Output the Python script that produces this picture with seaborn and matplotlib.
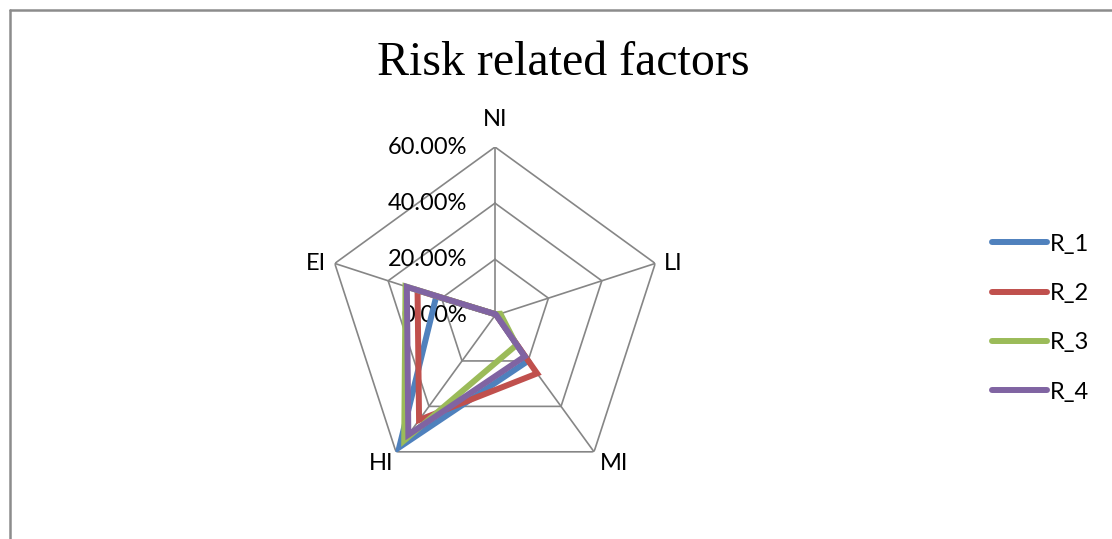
import numpy as np
import pandas as pd
import matplotlib
matplotlib.use("Agg")
import matplotlib.pyplot as plt
import seaborn as sns
from matplotlib.lines import Line2D

# ---- data ----
categories = ["NI", "LI", "MI", "HI", "EI"]
series_names = ["R_1", "R_2", "R_3", "R_4"]
R_1 = [0.5, 0.5, 20.0, 58.0, 22.0]
R_2 = [0.5, 0.5, 25.5, 46.0, 29.0]
R_3 = [0.5, 2.0, 13.0, 55.0, 33.5]
R_4 = [0.5, 0.5, 18.0, 52.5, 33.0]
r_ticks = [0.0, 0.2, 0.4, 0.6]
r_tick_labels = ["0.00%", "20.00%", "40.00%", "60.00%"]
colors = ["#4F81BD", "#C0504D", "#9BBB59", "#8064A2"]
title = "Risk related factors"

sns.set_theme(style="white")
plt.rcParams["font.family"] = ["Lato", "DejaVu Sans"]
plt.rcParams["text.color"] = "black"

W, H = 1112, 539
fig = plt.figure(figsize=(W / 100, H / 100), dpi=100)

cx, cy, rad = 495, 315.5, 168.5
ax = fig.add_axes([(cx - rad) / W, (H - cy - rad) / H, 2 * rad / W, 2 * rad / H],
                  projection="polar")
ax.set_theta_zero_location("N")
ax.set_theta_direction(-1)
ax.set_ylim(0, 0.6)
ax.grid(False)
ax.spines["polar"].set_visible(False)
ax.set_xticks([])
ax.set_yticks([])
ax.patch.set_alpha(0)

n = len(categories)
angles = np.linspace(0, 2 * np.pi, n, endpoint=False)
closed_angles = np.append(angles, angles[0])

grid_color = "#868686"
# pentagon gridlines
for r in r_ticks[1:]:
    ax.plot(closed_angles, [r] * (n + 1), color=grid_color, lw=1.2, zorder=1)
# spokes
for a in angles:
    ax.plot([a, a], [0, r_ticks[-1]], color=grid_color, lw=1.2, zorder=1)

# radial labels
for r, lab in zip(r_ticks, r_tick_labels):
    ax.annotate(lab, xy=(0, r), xytext=(-20, 0), textcoords="offset points",
                ha="right", va="center", fontsize=17, color="black", zorder=2)

# category labels
label_offsets = {
    "NI": ((0, 12), "center", "bottom"),
    "LI": ((6, 0), "left", "center"),
    "MI": ((4, -1), "left", "top"),
    "HI": ((-2, -1), "right", "top"),
    "EI": ((-6, 0), "right", "center"),
}
for a, c in zip(angles, categories):
    off, ha, va = label_offsets[c]
    ax.annotate(c, xy=(a, r_ticks[-1]), xytext=off, textcoords="offset points",
                ha=ha, va=va, fontsize=17, color="black")

# data lines via seaborn
rows = []
for name, vals in zip(series_names, [R_1, R_2, R_3, R_4]):
    closed_vals = list(vals) + [vals[0]]
    for i, (a, v) in enumerate(zip(closed_angles, closed_vals)):
        rows.append({"theta": a, "value": v / 100.0, "series": name, "order": i})
df = pd.DataFrame(rows)

sns.lineplot(data=df, x="theta", y="value", hue="series", palette=colors,
             sort=False, estimator=None, units="series", lw=4.3, ax=ax,
             legend=False, zorder=3)
for line in ax.lines[-4:]:
    line.set_solid_joinstyle("miter")
ax.set_xlabel("")
ax.set_ylabel("")
ax.set_xticks([])
ax.set_yticks([])
ax.set_ylim(0, 0.6)

handles = [Line2D([0], [0], color=c, lw=4.3, solid_capstyle="round") for c in colors]
leg = fig.legend(handles, series_names, loc="center left",
                 bbox_to_anchor=(983 / W, 1 - 318 / H), frameon=False,
                 fontsize=17, handlelength=2.3, handletextpad=0.15,
                 labelspacing=1.2, borderaxespad=0)
for t in leg.get_texts():
    t.set_color("black")

fig.text(563 / W, 1 - 63 / H, title, ha="center", va="center",
         fontsize=34.5, family="Liberation Serif", color="black")

# chart frame (top and left edges visible)
fig.add_artist(Line2D([10 / W, 10 / W], [1 - 10 / H, 0], color="#8C8C8C", lw=1.8,
                      transform=fig.transFigure))
fig.add_artist(Line2D([10 / W, 1], [1 - 10 / H, 1 - 10 / H], color="#8C8C8C", lw=1.8,
                      transform=fig.transFigure))

fig.savefig("out.png", dpi=100, facecolor="white")
